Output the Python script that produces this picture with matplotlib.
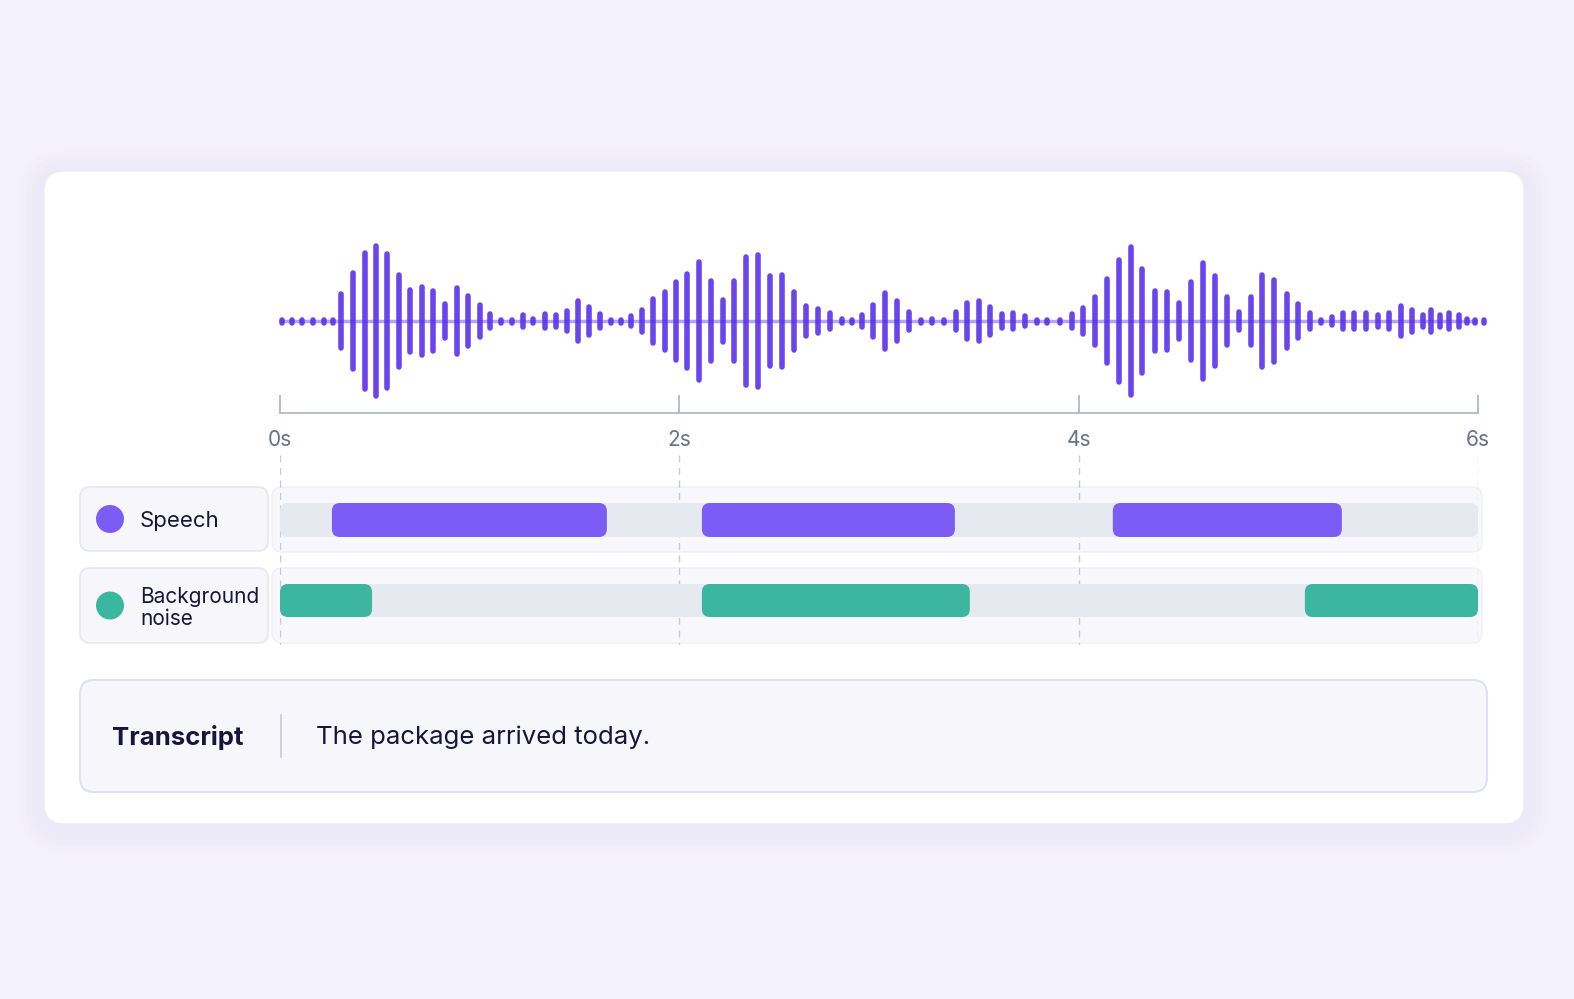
import matplotlib
matplotlib.use('Agg')

import matplotlib.pyplot as plt
from matplotlib.patches import FancyBboxPatch, Circle

# ── Dados ─────────────────────────────────────────────────────────────────────
TEMPOS_ONDA = [
    0.009, 0.059, 0.112, 0.167, 0.220, 0.267, 0.305, 0.364, 0.424, 0.482,
    0.537, 0.596, 0.653, 0.710, 0.766, 0.825, 0.885, 0.943, 1.000, 1.052,
    1.107, 1.162, 1.215, 1.269, 1.326, 1.381, 1.436, 1.494, 1.549, 1.603,
    1.656, 1.706, 1.756, 1.813, 1.870, 1.927, 1.983, 2.040,
    2.100, 2.158, 2.217, 2.275, 2.334, 2.394, 2.454, 2.516, 2.576, 2.634,
    2.694, 2.753, 2.813, 2.865, 2.915, 2.971, 3.031, 3.091, 3.150, 3.209,
    3.267, 3.325, 3.384, 3.439, 3.499, 3.556, 3.614, 3.672, 3.733, 3.790,
    3.843, 3.906, 3.965, 4.023, 4.082,
    4.140, 4.200, 4.260, 4.318, 4.382, 4.441, 4.502, 4.564, 4.624, 4.682,
    4.743, 4.803, 4.861, 4.919, 4.978, 5.042, 5.100, 5.159, 5.212, 5.267,
    5.322, 5.379, 5.437, 5.497, 5.555, 5.614, 5.671, 5.724, 5.767, 5.809,
    5.856, 5.904, 5.943, 5.986, 6.031,
]
AMPLITUDES = [
    0, 0, 0, 0, 0, 0, 27, 48, 68, 75, 67, 46, 31, 34, 30, 17, 33, 25, 16, 7,
    0, 0, 6, 2, 7, 6, 10, 20, 14, 7, 0, 0, 5, 11, 22, 29, 39, 47,
    59, 40, 21, 40, 64, 66, 45, 46, 29, 15, 12, 8, 2, 1, 6, 16, 28, 20, 9, 1,
    2, 1, 9, 18, 20, 14, 7, 8, 5, 1, 1, 1, 7, 13, 24,
    42, 61, 74, 52, 30, 29, 18, 39, 58, 45, 24, 9, 24, 46, 41, 27, 17, 8, 1, 4,
    8, 8, 8, 6, 8, 15, 11, 6, 11, 6, 8, 6, 2, 1, 1,
]
TICKS = [0, 2, 4, 6]
TICK_LABELS = ["0s", "2s", "4s", "6s"]

FALA = [(0.26, 1.637), (2.113, 3.380), (4.171, 5.318)]
RUIDO = [(0.0, 0.461), (2.113, 3.455), (5.133, 6.0)]

TRANSCRICAO = "The package arrived today."

# ── Figura ────────────────────────────────────────────────────────────────────
W, H = 1574, 999
FUNDO = "#f3f1fc"
TEXTO = "#17163a"
ROXO = "#5a30ea"
ROXO_CLARO = "#7b5cf5"
VERDE = "#3bb7a0"
TRILHA = "#e7e9f1"

plt.rcParams['font.family'] = ['Inter', 'DejaVu Sans']
fig = plt.figure(figsize=(W / 100, H / 100), dpi=100, facecolor=FUNDO)


def caixa(x0, y0, x1, y1):
    return [x0 / W, 1 - y1 / H, (x1 - x0) / W, (y1 - y0) / H]


ax_bg = fig.add_axes([0, 0, 1, 1])
ax_bg.set_xlim(0, W)
ax_bg.set_ylim(H, 0)
ax_bg.axis("off")
ax_bg.set_facecolor(FUNDO)

# sombra e cartão
for i, a in enumerate([0.025, 0.03, 0.035, 0.04]):
    p = 24 - i * 6
    ax_bg.add_patch(FancyBboxPatch((44 - p, 175 - p), 1480 + 2 * p, 653 + 2 * p,
                                   boxstyle=f"round,pad=0,rounding_size={20 + p}",
                                   fc="#c9c0f2", ec="none", alpha=a))
ax_bg.add_patch(FancyBboxPatch((44, 171), 1480, 653,
                               boxstyle="round,pad=0,rounding_size=20",
                               fc="white", ec="#ecebf7", lw=1))

# fundos das faixas
for y0, y1 in [(487, 552), (568, 643)]:
    ax_bg.add_patch(FancyBboxPatch((272, y0), 1210, y1 - y0,
                                   boxstyle="round,pad=0,rounding_size=10",
                                   fc="#f8f8fc", ec="#eef0f5", lw=1))

# legendas das faixas
for (y0, y1), cor in [((487, 551), ROXO_CLARO), ((568, 643), VERDE)]:
    ax_bg.add_patch(FancyBboxPatch((80, y0), 188, y1 - y0,
                                   boxstyle="round,pad=0,rounding_size=10",
                                   fc="#f6f6fb", ec="#e6e8f0", lw=1.2))
    ax_bg.add_patch(Circle((110, (y0 + y1) / 2), 14, fc=cor, ec="none"))
ax_bg.text(140, 521, "Speech", fontsize=16, color=TEXTO, va="center", ha="left")
ax_bg.text(140, 608, "Background\nnoise", fontsize=15, color=TEXTO, va="center",
           ha="left", linespacing=1.1)

# transcrição
ax_bg.add_patch(FancyBboxPatch((80, 680), 1407, 112,
                               boxstyle="round,pad=0,rounding_size=14",
                               fc="#f6f6fb", ec="#dfe2ec", lw=1.5))
ax_bg.text(112, 737, "Transcript", fontsize=18.5, fontweight="bold", color=TEXTO,
           va="center", ha="left")
ax_bg.plot([281, 281], [715, 757], color="#c5c8d4", lw=1.2)
ax_bg.text(316, 737, TRANSCRICAO, fontsize=18.5, color=TEXTO, va="center", ha="left")

# ── Forma de onda ─────────────────────────────────────────────────────────────
ax_w = fig.add_axes(caixa(280, 240, 1478, 413))
ax_w.set_xlim(0, 6)
ax_w.set_ylim(-92, 81)
ax_w.patch.set_alpha(0)
ax_w.axhline(0, color="#b2a6f3", lw=2.5, zorder=1)
amps = [max(a, 1.5) for a in AMPLITUDES]
barras = ax_w.vlines(TEMPOS_ONDA, [-a for a in amps], amps, color=ROXO, lw=4,
                     alpha=0.9, zorder=2, clip_on=False)
barras.set_capstyle("round")
for s in ["top", "right", "left"]:
    ax_w.spines[s].set_visible(False)
ax_w.spines["bottom"].set_color("#aab0c6")
ax_w.spines["bottom"].set_linewidth(1.2)
ax_w.set_yticks([])
ax_w.set_xticks(TICKS)
ax_w.set_xticklabels(TICK_LABELS)
ax_w.tick_params(axis="x", direction="in", length=13, width=1.2, color="#aab0c6",
                 labelcolor="#66708f", labelsize=15, pad=12)

# ── Faixas ────────────────────────────────────────────────────────────────────
ax_t = fig.add_axes(caixa(280, 455, 1478, 645))
ax_t.set_xlim(0, 6)
ax_t.set_ylim(645, 455)
ax_t.axis("off")
ax_t.vlines(TICKS, 455, 645, color="#c6cad6", lw=1, linestyles=(0, (5, 4)), zorder=1)
asp = (1478 - 280) / 6


def barra(ax, x0, x1, y0, y1, cor, z):
    ax.add_patch(FancyBboxPatch((x0, y0), x1 - x0, y1 - y0,
                                boxstyle=f"round,pad=0,rounding_size={8 / asp}",
                                mutation_aspect=asp, fc=cor, ec="none", zorder=z,
                                clip_on=False))


for y0, y1 in [(503, 537), (584, 617)]:
    barra(ax_t, 0, 6, y0, y1, TRILHA, 2)
for x0, x1 in FALA:
    barra(ax_t, x0, x1, 503, 537, ROXO_CLARO, 3)
for x0, x1 in RUIDO:
    barra(ax_t, x0, x1, 584, 617, VERDE, 3)

fig.savefig("out.png", dpi=100, facecolor=FUNDO)
